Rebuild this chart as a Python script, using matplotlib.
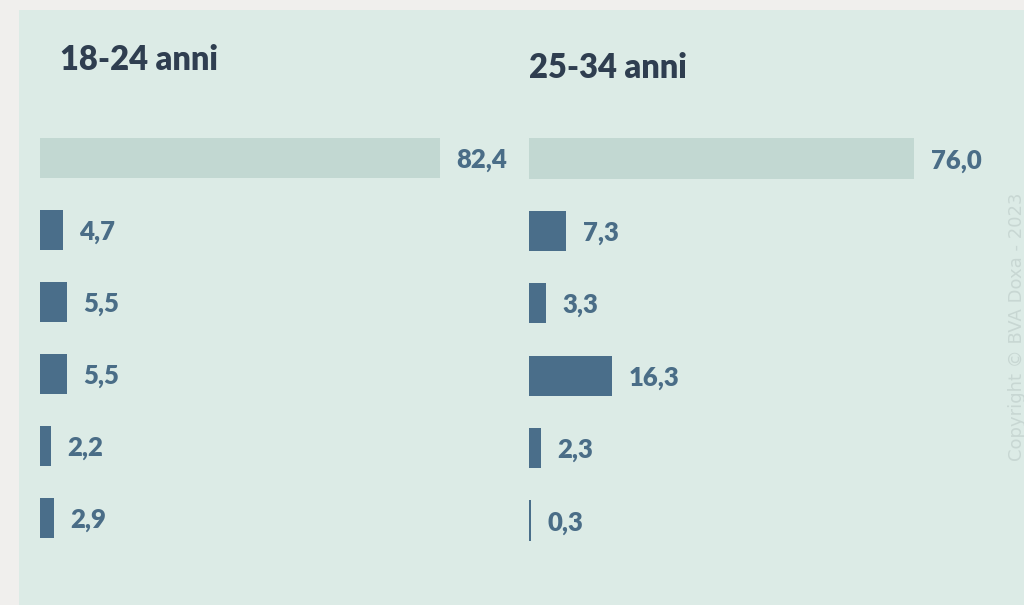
import matplotlib
matplotlib.use("Agg")
import matplotlib.pyplot as plt
from matplotlib.patches import Rectangle

titles = ["18-24 anni", "25-34 anni"]
values_1824 = [82.4, 4.7, 5.5, 5.5, 2.2, 2.9]
values_2534 = [76.0, 7.3, 3.3, 16.3, 2.3, 0.3]
labels_1824 = ["82,4", "4,7", "5,5", "5,5", "2,2", "2,9"]
labels_2534 = ["76,0", "7,3", "3,3", "16,3", "2,3", "0,3"]
copyright_text = "Copyright © BVA Doxa - 2023"

W, H = 1024, 605
fig = plt.figure(figsize=(W / 100, H / 100), dpi=100, facecolor="#f0efed")

panel = Rectangle((19 / W, 0), 1 - 19 / W, 1 - 10 / H, transform=fig.transFigure,
                  facecolor="#dcebe6", edgecolor="none", zorder=-10)
fig.patches.append(panel)

FONT = "Lato"
LIGHT = "#c2d8d2"
DARK = "#4a6e8a"
LABEL_C = "#4a6d87"
TITLE_C = "#2f3e50"


def make_panel(x0, x1, y_top, y_bot, values, labels):
    ax = fig.add_axes([x0 / W, 1 - y_bot / H, (x1 - x0) / W, (y_bot - y_top) / H])
    ax.set_zorder(5)
    ax.set_facecolor("none")
    n = len(values)
    ypos = list(range(n))
    colors = [LIGHT] + [DARK] * (n - 1)
    ax.barh(ypos, values, height=40 / 72, color=colors, edgecolor="none")
    ax.set_xlim(0, max(values))
    ax.set_ylim(n - 0.5, -0.5)
    for y, v, lab in zip(ypos, values, labels):
        ax.annotate(lab, (v, y), xytext=(12, -1.5), textcoords="offset points",
                    ha="left", va="center", fontsize=18.5, fontweight="heavy",
                    color=LABEL_C, family=FONT, annotation_clip=False)
    ax.axis("off")
    return ax


make_panel(40, 440, 122, 554, values_1824, labels_1824)
make_panel(529, 914, 122.3, 556.7, values_2534, labels_2534)

fig.text(60 / W, 1 - 60 / H, titles[0], ha="left", va="center", fontsize=23.5,
         fontweight="heavy", color=TITLE_C, family=FONT)
fig.text(529 / W, 1 - 68 / H, titles[1], ha="left", va="center", fontsize=23.5,
         fontweight="heavy", color=TITLE_C, family=FONT)

fig.text(1017 / W, 1 - 327 / H, copyright_text, rotation=90, ha="center", va="center",
         fontsize=13, color="#c8d7d3", family="DejaVu Sans")

fig.savefig("out.png", dpi=100, facecolor=fig.get_facecolor())
